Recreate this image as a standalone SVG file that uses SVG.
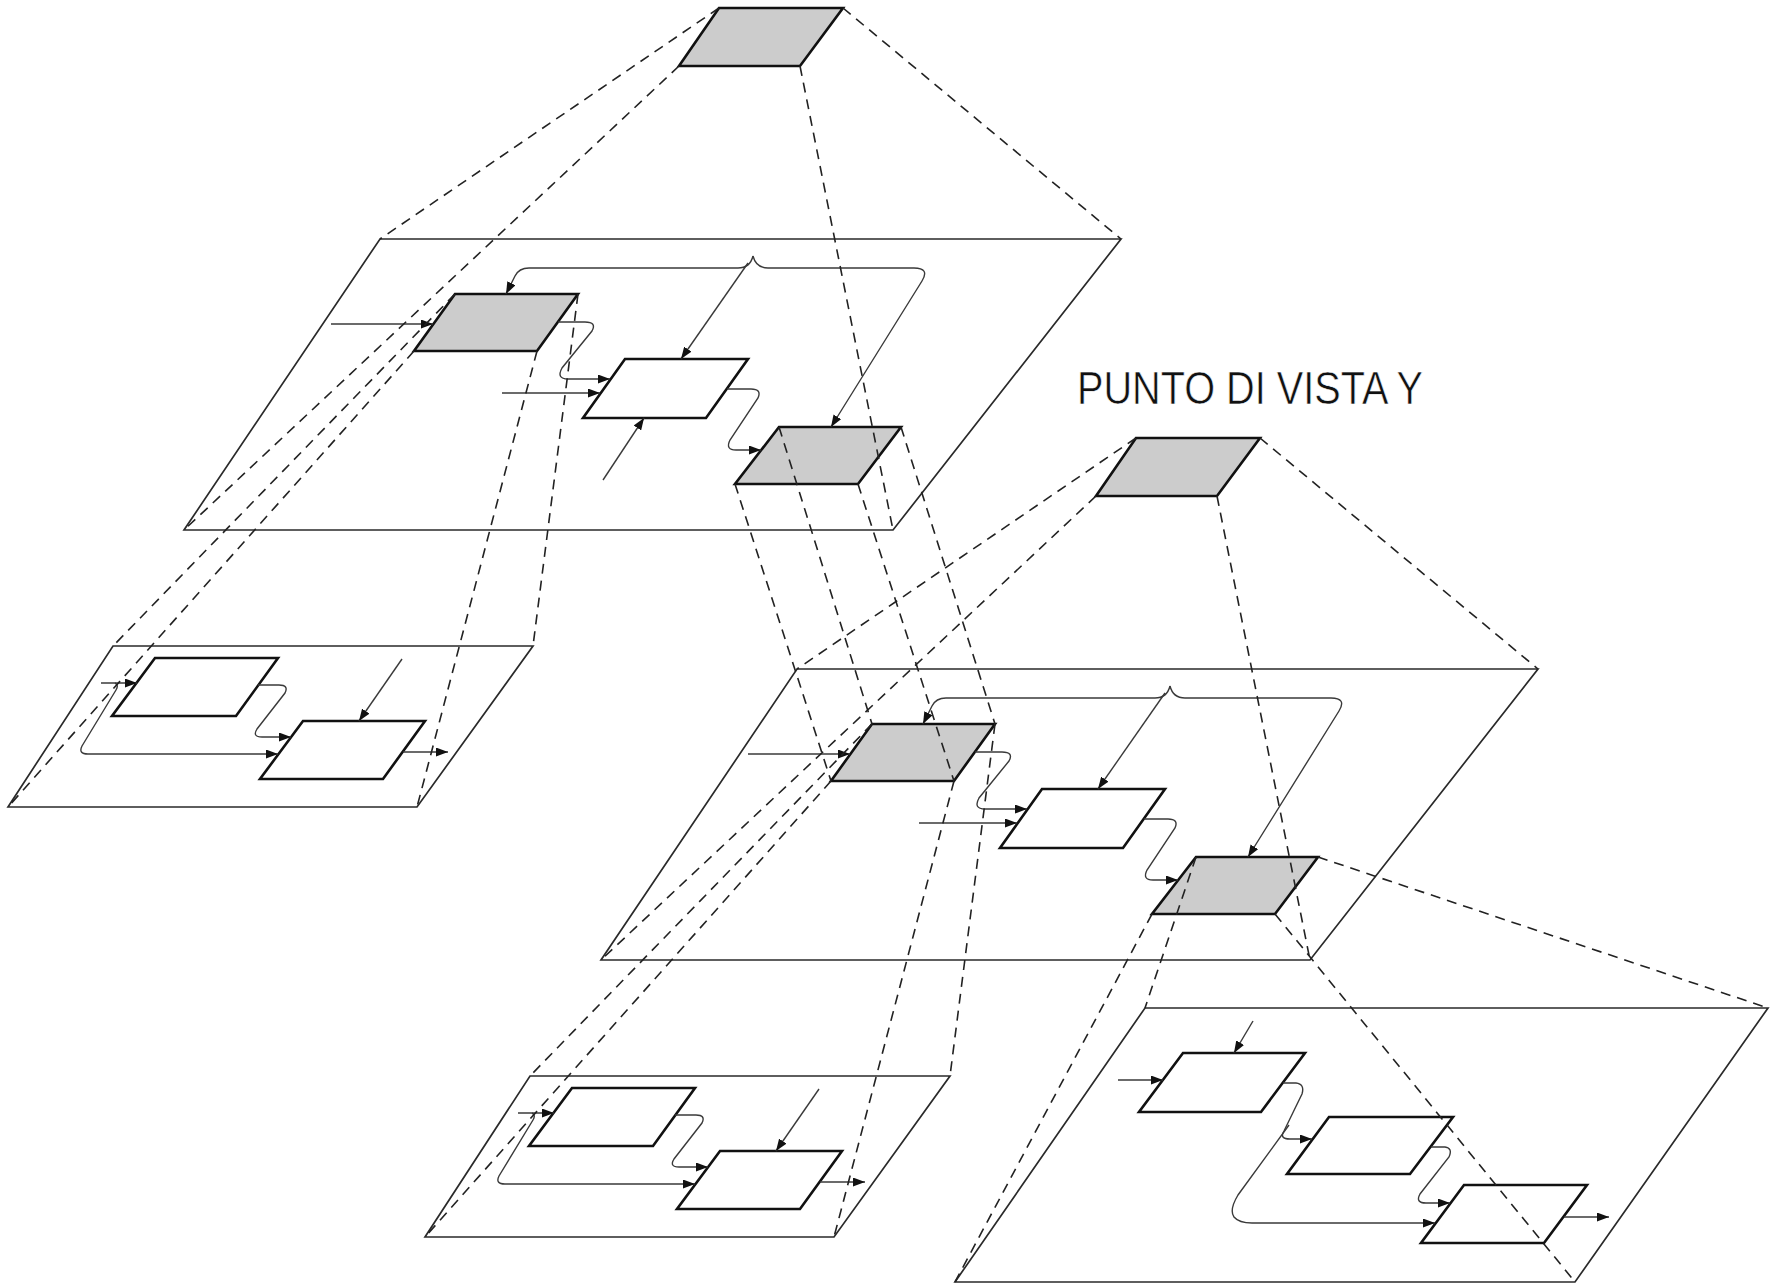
<svg xmlns="http://www.w3.org/2000/svg" width="1781" height="1283" viewBox="0 0 1781 1283">
<style>
.plane{fill:none;stroke:#2a2a2a;stroke-width:1.7;stroke-linejoin:miter}
.box{stroke:#111;stroke-width:2.6;stroke-linejoin:miter}
.gray{fill:#cccccc}
.white{fill:#ffffff}
.flow{fill:none;stroke:#3a3a3a;stroke-width:1.4;marker-end:url(#ah)}
.proj{fill:none;stroke:#222;stroke-width:1.6;stroke-dasharray:10 7}
.label{font-family:"Liberation Sans",Arial,sans-serif;font-size:47px;fill:#111;stroke:#ffffff;stroke-width:0.6}
</style>
<defs>
<marker id="ah" markerUnits="userSpaceOnUse" markerWidth="13" markerHeight="9" refX="12" refY="4.5" orient="auto">
<path d="M0,0 L12,4.5 L0,9 z" fill="#111"/>
</marker>
</defs>
<rect width="1781" height="1283" fill="#ffffff"/>

<!-- planes -->
<g id="plane-x1"><polygon class="plane" points="380,239 1121,239 893,530 184,530"/></g>
<g id="plane-x2"><polygon class="plane" points="113,646 533,646 417,807 8,807"/></g>
<g id="plane-y1"><polygon class="plane" points="797,669 1538,669 1310,960 601,960"/></g>
<g id="plane-y2"><polygon class="plane" points="530,1076 950,1076 834,1237 425,1237"/></g>
<g id="plane-y3"><polygon class="plane" points="1145,1008 1768,1008 1575,1282 955,1282"/></g>

<!-- boxes -->
<g id="box-a"><polygon class="box gray" points="719,8 843,8 800,66 679,66"/></g>
<g id="box-b1"><polygon class="box gray" points="455,294 578,294 537,351 414,351"/></g>
<g id="box-w1"><polygon class="box white" points="625,359 748,359 706,418 583,418"/></g>
<g id="box-c1"><polygon class="box gray" points="779,427 901,427 858,484 735,484"/></g>
<g id="box-d1"><polygon class="box white" points="155,658 278,658 236,716 112,716"/></g>
<g id="box-e1"><polygon class="box white" points="303,721 425,721 383,779 260,779"/></g>
<g id="box-a2"><polygon class="box gray" points="1136,438 1260,438 1217,496 1096,496"/></g>
<g id="box-b2"><polygon class="box gray" points="872,724 995,724 954,781 831,781"/></g>
<g id="box-w2"><polygon class="box white" points="1042,789 1165,789 1123,848 1000,848"/></g>
<g id="box-c2"><polygon class="box gray" points="1196,857 1318,857 1275,914 1152,914"/></g>
<g id="box-d2"><polygon class="box white" points="572,1088 695,1088 653,1146 529,1146"/></g>
<g id="box-e2"><polygon class="box white" points="720,1151 842,1151 800,1209 677,1209"/></g>
<g id="box-f1"><polygon class="box white" points="1183,1053 1305,1053 1261,1112 1139,1112"/></g>
<g id="box-f2"><polygon class="box white" points="1329,1117 1453,1117 1410,1174 1287,1174"/></g>
<g id="box-f3"><polygon class="box white" points="1464,1185 1587,1185 1544,1243 1421,1243"/></g>

<g id="label"><text class="label" x="1077" y="404" textLength="346" lengthAdjust="spacingAndGlyphs">PUNTO DI VISTA Y</text></g>

<g id="connectors">
<g id="flows-x1">
<path class="flow" d="M331,324 L433,324"/>
<path class="flow" d="M753,256 Q750,268 738,268 L529,268 Q519,268 515,276 L506,294"/>
<path class="flow" d="M753,256 Q756,268 768,268 L914,268 Q930,268 922,281 L831,427"/>
<path class="flow" d="M748,263 L681,359"/>
<path class="flow" d="M558,322 L585,322 Q597,322 592,331 L562,368 Q556,379 568,379 L610,379"/>
<path class="flow" d="M502,393 L600,393"/>
<path class="flow" d="M603,480 L644,418"/>
<path class="flow" d="M727,389 L751,389 Q762,389 758,398 L730,440 Q725,450 736,450 L761,450"/>
</g>
<g id="flows-y1" transform="translate(417,430)">
<path class="flow" d="M331,324 L433,324"/>
<path class="flow" d="M753,256 Q750,268 738,268 L529,268 Q519,268 515,276 L506,294"/>
<path class="flow" d="M753,256 Q756,268 768,268 L914,268 Q930,268 922,281 L831,427"/>
<path class="flow" d="M748,263 L681,359"/>
<path class="flow" d="M558,322 L585,322 Q597,322 592,331 L562,368 Q556,379 568,379 L610,379"/>
<path class="flow" d="M502,393 L600,393"/>
<path class="flow" d="M727,389 L751,389 Q762,389 758,398 L730,440 Q725,450 736,450 L761,450"/>
</g>
<g id="flows-x2">
<path class="flow" d="M101,683 L137,683"/>
<path class="flow" d="M115,683 Q119,685 116,690 L82,746 Q78,754 88,754 L278,754"/>
<path class="flow" d="M258,685 L279,685 Q289,685 285,693 L257,729 Q252,737 262,737 L291,737"/>
<path class="flow" d="M402,659 L359,721"/>
<path class="flow" d="M403,752 L448,752"/>
</g>
<g id="flows-y2" transform="translate(417,430)">
<path class="flow" d="M101,683 L137,683"/>
<path class="flow" d="M115,683 Q119,685 116,690 L82,746 Q78,754 88,754 L278,754"/>
<path class="flow" d="M258,685 L279,685 Q289,685 285,693 L257,729 Q252,737 262,737 L291,737"/>
<path class="flow" d="M402,659 L359,721"/>
<path class="flow" d="M403,752 L448,752"/>
</g>
<g id="flows-y3">
<path class="flow" d="M1253,1021 L1234,1053"/>
<path class="flow" d="M1118,1080 L1163,1080"/>
<path class="flow" d="M1283,1083 L1296,1083 Q1305,1084 1302,1094 L1284,1131 Q1279,1139 1290,1139 L1312,1139"/>
<path class="flow" d="M1289,1125 L1238,1195 Q1229,1210 1234,1217 Q1239,1223 1252,1223 L1435,1223"/>
<path class="flow" d="M1431,1147 L1445,1147 Q1453,1148 1449,1157 L1420,1194 Q1415,1203 1426,1203 L1450,1203"/>
<path class="flow" d="M1564,1217 L1609,1217"/>
</g>
<g id="projections">
<path class="proj" d="M719,8 L380,239"/>
<path class="proj" d="M843,8 L1121,239"/>
<path class="proj" d="M679,66 L184,530"/>
<path class="proj" d="M800,66 L893,530"/>
<path class="proj" d="M455,294 L113,646"/>
<path class="proj" d="M578,294 L533,646"/>
<path class="proj" d="M414,351 L8,807"/>
<path class="proj" d="M537,351 L417,807"/>
<path class="proj" d="M779,427 L872,724"/>
<path class="proj" d="M901,427 L995,724"/>
<path class="proj" d="M735,484 L831,781"/>
<path class="proj" d="M858,484 L954,781"/>
<path class="proj" d="M1136,438 L797,669"/>
<path class="proj" d="M1260,438 L1538,669"/>
<path class="proj" d="M1096,496 L601,960"/>
<path class="proj" d="M1217,496 L1310,960"/>
<path class="proj" d="M872,724 L530,1076"/>
<path class="proj" d="M995,724 L950,1076"/>
<path class="proj" d="M831,781 L425,1237"/>
<path class="proj" d="M954,781 L834,1237"/>
<path class="proj" d="M1196,857 L1145,1008"/>
<path class="proj" d="M1318,857 L1768,1008"/>
<path class="proj" d="M1152,914 L955,1282"/>
<path class="proj" d="M1275,914 L1575,1282"/>
</g>
</g>
</svg>
